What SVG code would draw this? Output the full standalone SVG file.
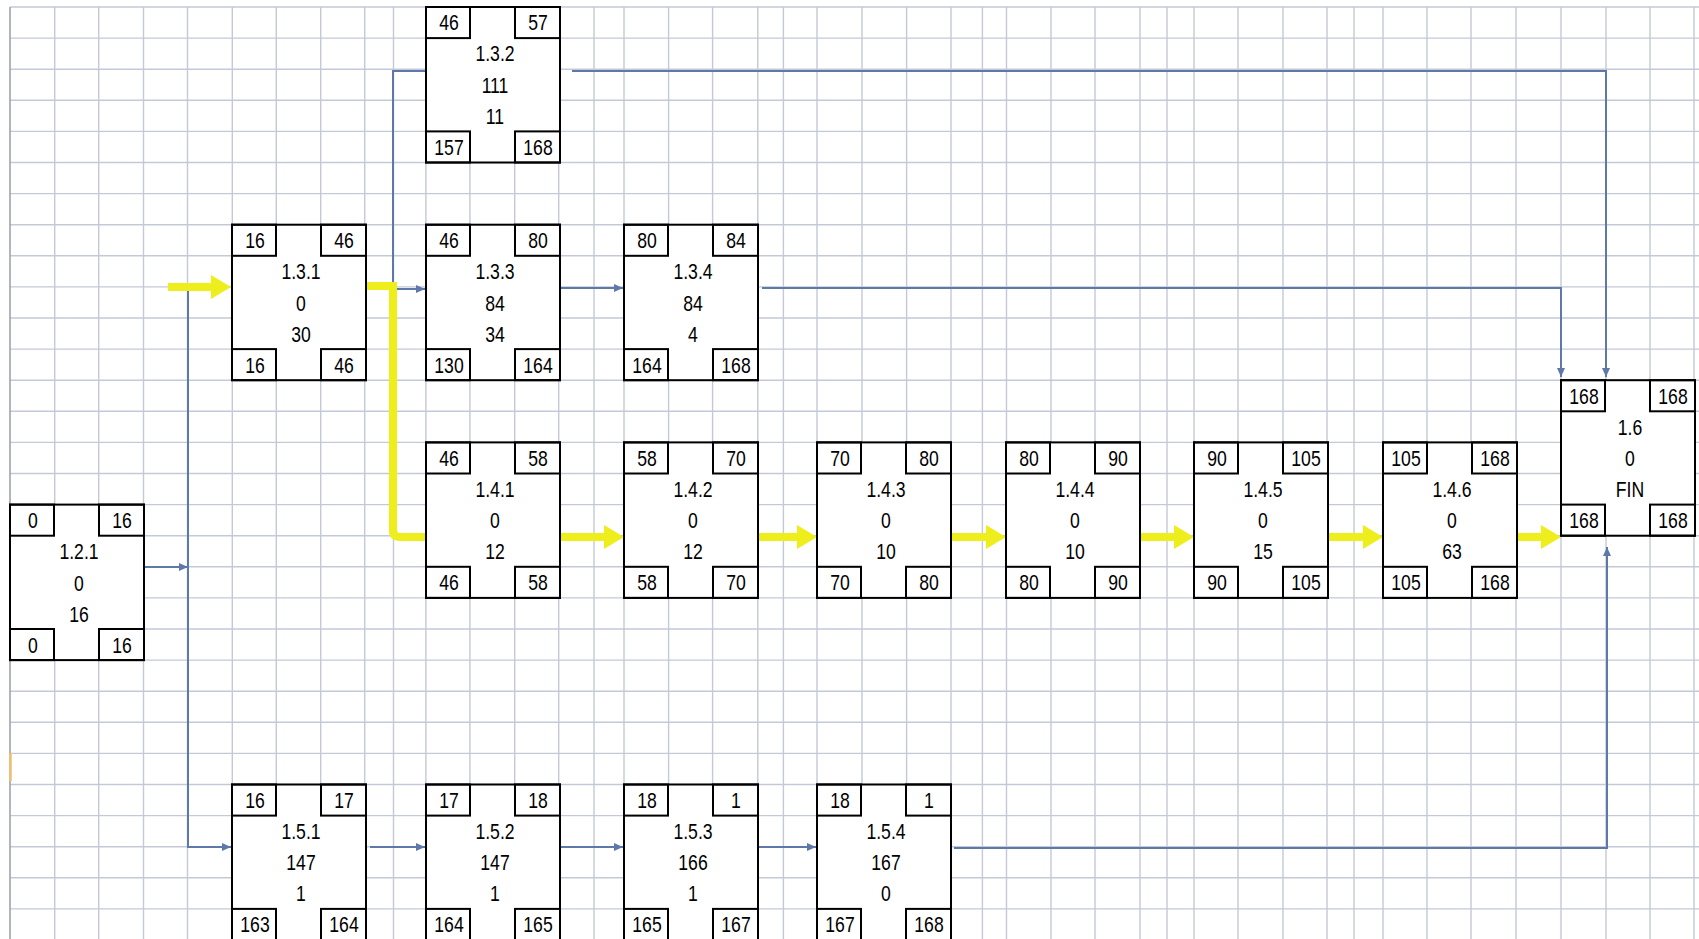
<svg xmlns="http://www.w3.org/2000/svg" xmlns:xlink="http://www.w3.org/1999/xlink" width="1699" height="939" viewBox="0 0 1699 939">
<style>
.grid{fill:none;stroke:#c3c9d6;stroke-width:1.4}
.edge{fill:none;stroke:#9ea3ad;stroke-width:1.6}
.box{fill:#fff;stroke:#000;stroke-width:2}
.cell{fill:none;stroke:#000;stroke-width:2}
.t{font-family:"Liberation Sans",Arial,sans-serif;font-size:22px;text-anchor:middle;fill:#000}
.conn{fill:none;stroke:#5f78aa;stroke-width:2}
.yel{fill:none;stroke:#eeee1c;stroke-width:8}
</style>
<defs>
<marker id="ba" markerUnits="userSpaceOnUse" markerWidth="9" markerHeight="8" refX="9" refY="4" orient="auto"><path d="M0,0 L9,4 L0,8 z" fill="#5f78aa"/></marker>
<marker id="ya" markerUnits="userSpaceOnUse" markerWidth="22" markerHeight="26" refX="8" refY="13" orient="auto"><path d="M0,1 L20,13 L0,25 z" fill="#eeee1c"/></marker>
<g id="frame">
<rect class="box" x="0" y="0" width="134" height="155.5"/>
<rect class="cell" x="0" y="0" width="44" height="31.1"/>
<rect class="cell" x="89" y="0" width="45" height="31.1"/>
<rect class="cell" x="0" y="124.4" width="44" height="31.1"/>
<rect class="cell" x="89" y="124.4" width="45" height="31.1"/>
</g>
</defs>
<rect x="0" y="0" width="1699" height="939" fill="#fff"/>
<g id="grid">
<path class="grid" d="M10,7H1699M10,38.1H1699M10,69.2H1699M10,100.3H1699M10,131.4H1699M10,162.5H1699M10,193.6H1699M10,224.7H1699M10,255.8H1699M10,286.9H1699M10,318H1699M10,349.1H1699M10,380.2H1699M10,411.3H1699M10,442.4H1699M10,473.5H1699M10,504.6H1699M10,535.7H1699M10,566.8H1699M10,597.9H1699M10,629H1699M10,660.1H1699M10,691.2H1699M10,722.3H1699M10,753.4H1699M10,784.5H1699M10,815.6H1699M10,846.7H1699M10,877.8H1699M10,908.9H1699"/>
<path class="grid" d="M54.7,7V939M98.7,7V939M143.5,7V939M187.5,7V939M232.3,7V939M276.3,7V939M320.7,7V939M364.7,7V939M393.5,7V939M425.9,7V939M469.9,7V939M514.7,7V939M558.7,7V939M594,7V939M624,7V939M668.6,7V939M712.6,7V939M757.8,7V939M783.4,7V939M817,7V939M862,7V939M906.6,7V939M951,7V939M982.4,7V939M1006.5,7V939M1051,7V939M1095,7V939M1140,7V939M1167,7V939M1194,7V939M1238,7V939M1283,7V939M1327,7V939M1354,7V939M1383,7V939M1427,7V939M1471,7V939M1516,7V939M1561,7V939M1606,7V939M1650,7V939M1694,7V939"/>
<path class="edge" d="M10,7V939"/>
<rect x="9" y="753" width="3" height="28" fill="#f4c46e" opacity="0.8"/>
</g>
<g id="connectors">
<path class="conn" d="M143,567H188" marker-end="url(#ba)"/>
<path class="conn" d="M188,288V847H231" marker-end="url(#ba)"/>
<path class="conn" d="M393,288V71H425"/>
<path class="conn" d="M393,289H425" marker-end="url(#ba)"/>
<path class="conn" d="M572,71H1606V377" marker-end="url(#ba)"/>
<path class="conn" d="M559,288H623" marker-end="url(#ba)"/>
<path class="conn" d="M762,288H1561V377" marker-end="url(#ba)"/>
<path class="conn" d="M370,847H425" marker-end="url(#ba)"/>
<path class="conn" d="M559,847H623" marker-end="url(#ba)"/>
<path class="conn" d="M758,847H816" marker-end="url(#ba)"/>
<path class="conn" d="M954,848H1607V547" marker-end="url(#ba)"/>
<path class="yel" d="M168,287H219" marker-end="url(#ya)"/>
<path class="yel" d="M365,286H393V530Q393,537 400,537H425"/>
<path class="yel" d="M559,537H612" marker-end="url(#ya)"/>
<path class="yel" d="M758,537H805" marker-end="url(#ya)"/>
<path class="yel" d="M951,537H994" marker-end="url(#ya)"/>
<path class="yel" d="M1140,537H1182" marker-end="url(#ya)"/>
<path class="yel" d="M1327,537H1371" marker-end="url(#ya)"/>
<path class="yel" d="M1516,537H1549" marker-end="url(#ya)"/>
</g>
<g id="n121" transform="translate(10,504.6)"><use xlink:href="#frame"/><g transform="scale(0.8,1)"><text class="t" x="28.75" y="23.5">0</text><text class="t" x="140" y="23.5">16</text><text class="t" x="86.25" y="54.5">1.2.1</text><text class="t" x="86.25" y="86">0</text><text class="t" x="86.25" y="117">16</text><text class="t" x="28.75" y="148">0</text><text class="t" x="140" y="148">16</text></g></g>
<g id="n131" transform="translate(232,224.7)"><use xlink:href="#frame"/><g transform="scale(0.8,1)"><text class="t" x="28.75" y="23.5">16</text><text class="t" x="140" y="23.5">46</text><text class="t" x="86.25" y="54.5">1.3.1</text><text class="t" x="86.25" y="86">0</text><text class="t" x="86.25" y="117">30</text><text class="t" x="28.75" y="148">16</text><text class="t" x="140" y="148">46</text></g></g>
<g id="n132" transform="translate(426,7)"><use xlink:href="#frame"/><g transform="scale(0.8,1)"><text class="t" x="28.75" y="23.5">46</text><text class="t" x="140" y="23.5">57</text><text class="t" x="86.25" y="54.5">1.3.2</text><text class="t" x="86.25" y="86">111</text><text class="t" x="86.25" y="117">11</text><text class="t" x="28.75" y="148">157</text><text class="t" x="140" y="148">168</text></g></g>
<g id="n133" transform="translate(426,224.7)"><use xlink:href="#frame"/><g transform="scale(0.8,1)"><text class="t" x="28.75" y="23.5">46</text><text class="t" x="140" y="23.5">80</text><text class="t" x="86.25" y="54.5">1.3.3</text><text class="t" x="86.25" y="86">84</text><text class="t" x="86.25" y="117">34</text><text class="t" x="28.75" y="148">130</text><text class="t" x="140" y="148">164</text></g></g>
<g id="n134" transform="translate(624,224.7)"><use xlink:href="#frame"/><g transform="scale(0.8,1)"><text class="t" x="28.75" y="23.5">80</text><text class="t" x="140" y="23.5">84</text><text class="t" x="86.25" y="54.5">1.3.4</text><text class="t" x="86.25" y="86">84</text><text class="t" x="86.25" y="117">4</text><text class="t" x="28.75" y="148">164</text><text class="t" x="140" y="148">168</text></g></g>
<g id="n141" transform="translate(426,442.4)"><use xlink:href="#frame"/><g transform="scale(0.8,1)"><text class="t" x="28.75" y="23.5">46</text><text class="t" x="140" y="23.5">58</text><text class="t" x="86.25" y="54.5">1.4.1</text><text class="t" x="86.25" y="86">0</text><text class="t" x="86.25" y="117">12</text><text class="t" x="28.75" y="148">46</text><text class="t" x="140" y="148">58</text></g></g>
<g id="n142" transform="translate(624,442.4)"><use xlink:href="#frame"/><g transform="scale(0.8,1)"><text class="t" x="28.75" y="23.5">58</text><text class="t" x="140" y="23.5">70</text><text class="t" x="86.25" y="54.5">1.4.2</text><text class="t" x="86.25" y="86">0</text><text class="t" x="86.25" y="117">12</text><text class="t" x="28.75" y="148">58</text><text class="t" x="140" y="148">70</text></g></g>
<g id="n143" transform="translate(817,442.4)"><use xlink:href="#frame"/><g transform="scale(0.8,1)"><text class="t" x="28.75" y="23.5">70</text><text class="t" x="140" y="23.5">80</text><text class="t" x="86.25" y="54.5">1.4.3</text><text class="t" x="86.25" y="86">0</text><text class="t" x="86.25" y="117">10</text><text class="t" x="28.75" y="148">70</text><text class="t" x="140" y="148">80</text></g></g>
<g id="n144" transform="translate(1006,442.4)"><use xlink:href="#frame"/><g transform="scale(0.8,1)"><text class="t" x="28.75" y="23.5">80</text><text class="t" x="140" y="23.5">90</text><text class="t" x="86.25" y="54.5">1.4.4</text><text class="t" x="86.25" y="86">0</text><text class="t" x="86.25" y="117">10</text><text class="t" x="28.75" y="148">80</text><text class="t" x="140" y="148">90</text></g></g>
<g id="n145" transform="translate(1194,442.4)"><use xlink:href="#frame"/><g transform="scale(0.8,1)"><text class="t" x="28.75" y="23.5">90</text><text class="t" x="140" y="23.5">105</text><text class="t" x="86.25" y="54.5">1.4.5</text><text class="t" x="86.25" y="86">0</text><text class="t" x="86.25" y="117">15</text><text class="t" x="28.75" y="148">90</text><text class="t" x="140" y="148">105</text></g></g>
<g id="n146" transform="translate(1383,442.4)"><use xlink:href="#frame"/><g transform="scale(0.8,1)"><text class="t" x="28.75" y="23.5">105</text><text class="t" x="140" y="23.5">168</text><text class="t" x="86.25" y="54.5">1.4.6</text><text class="t" x="86.25" y="86">0</text><text class="t" x="86.25" y="117">63</text><text class="t" x="28.75" y="148">105</text><text class="t" x="140" y="148">168</text></g></g>
<g id="n16" transform="translate(1561,380.2)"><use xlink:href="#frame"/><g transform="scale(0.8,1)"><text class="t" x="28.75" y="23.5">168</text><text class="t" x="140" y="23.5">168</text><text class="t" x="86.25" y="54.5">1.6</text><text class="t" x="86.25" y="86">0</text><text class="t" x="86.25" y="117">FIN</text><text class="t" x="28.75" y="148">168</text><text class="t" x="140" y="148">168</text></g></g>
<g id="n151" transform="translate(232,784.5)"><use xlink:href="#frame"/><g transform="scale(0.8,1)"><text class="t" x="28.75" y="23.5">16</text><text class="t" x="140" y="23.5">17</text><text class="t" x="86.25" y="54.5">1.5.1</text><text class="t" x="86.25" y="86">147</text><text class="t" x="86.25" y="117">1</text><text class="t" x="28.75" y="148">163</text><text class="t" x="140" y="148">164</text></g></g>
<g id="n152" transform="translate(426,784.5)"><use xlink:href="#frame"/><g transform="scale(0.8,1)"><text class="t" x="28.75" y="23.5">17</text><text class="t" x="140" y="23.5">18</text><text class="t" x="86.25" y="54.5">1.5.2</text><text class="t" x="86.25" y="86">147</text><text class="t" x="86.25" y="117">1</text><text class="t" x="28.75" y="148">164</text><text class="t" x="140" y="148">165</text></g></g>
<g id="n153" transform="translate(624,784.5)"><use xlink:href="#frame"/><g transform="scale(0.8,1)"><text class="t" x="28.75" y="23.5">18</text><text class="t" x="140" y="23.5">1</text><text class="t" x="86.25" y="54.5">1.5.3</text><text class="t" x="86.25" y="86">166</text><text class="t" x="86.25" y="117">1</text><text class="t" x="28.75" y="148">165</text><text class="t" x="140" y="148">167</text></g></g>
<g id="n154" transform="translate(817,784.5)"><use xlink:href="#frame"/><g transform="scale(0.8,1)"><text class="t" x="28.75" y="23.5">18</text><text class="t" x="140" y="23.5">1</text><text class="t" x="86.25" y="54.5">1.5.4</text><text class="t" x="86.25" y="86">167</text><text class="t" x="86.25" y="117">0</text><text class="t" x="28.75" y="148">167</text><text class="t" x="140" y="148">168</text></g></g>
</svg>
